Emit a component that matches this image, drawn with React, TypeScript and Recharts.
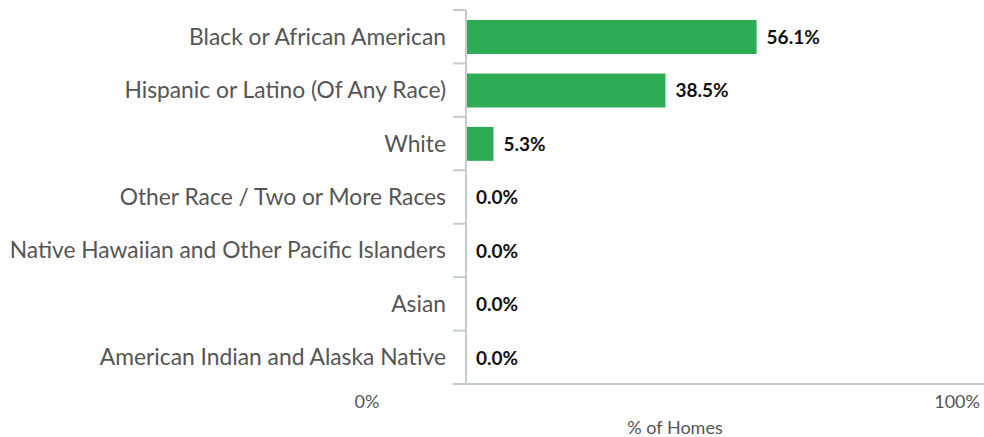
import { BarChart, Bar, XAxis, YAxis, LabelList } from 'recharts';

const categories = [
  'Black or African American',
  'Hispanic or Latino (Of Any Race)',
  'White',
  'Other Race / Two or More Races',
  'Native Hawaiian and Other Pacific Islanders',
  'Asian',
  'American Indian and Alaska Native',
];
const shares = [56.1, 38.5, 5.3, 0.0, 0.0, 0.0, 0.0];
const xTicks = [0, 100];

const data = categories.map((name, i) => ({ name, value: shares[i] }));

const AXIS = '#c3cdcf';
const FONT = 'Lato, "Noto Sans", sans-serif';
const TOP = 10;
const PLOT_H = 374;
const BAND = PLOT_H / categories.length;

function CategoryTick(props: any) {
  const { x, y, payload, index } = props;
  const axisX = x + 8;
  return (
    <g>
      <line x1={axisX - 13} x2={axisX} y1={y - BAND / 2} y2={y - BAND / 2} stroke={AXIS} strokeWidth={2} />
      {index === categories.length - 1 && (
        <line x1={axisX - 13} x2={axisX} y1={y + BAND / 2} y2={y + BAND / 2} stroke={AXIS} strokeWidth={2} />
      )}
      <text x={axisX - 20} y={y} dy={8} textAnchor="end" fill="#555" fontSize={22.8} fontFamily={FONT}>
        {payload.value}
      </text>
    </g>
  );
}

function PercentTick(props: any) {
  const { x, y, payload } = props;
  const isZero = payload.value === 0;
  return (
    <text
      x={isZero ? x - 99 : x - 4}
      y={y}
      dy={16}
      textAnchor={isZero ? 'middle' : 'end'}
      fill="#555"
      fontSize={18}
      fontFamily={FONT}
    >
      {payload.value}%
    </text>
  );
}

function ValueLabel(props: any) {
  const { x, y, width, height, value } = props;
  const w = Number(width) < 0.5 ? 0 : Number(width);
  return (
    <text
      x={Number(x) + w + 10}
      y={Number(y) + Number(height) / 2}
      dy={7}
      fill="#111"
      fontSize={19}
      fontWeight={700}
      fontFamily={FONT}
    >
      {Number(value).toFixed(1)}%
    </text>
  );
}

export default function App() {
  return (
    <div style={{ position: 'absolute', left: 0, top: 0, width: 984, height: 437, background: '#fff' }}>
      <BarChart
        width={984}
        height={437}
        data={data}
        layout="vertical"
        margin={{ top: TOP, right: 0, bottom: 0, left: 0 }}
        barCategoryGap={0}
      >
        <XAxis
          type="number"
          domain={[0, 100]}
          ticks={xTicks}
          tick={<PercentTick />}
          tickLine={false}
          axisLine={{ stroke: AXIS, strokeWidth: 2 }}
          height={437 - TOP - PLOT_H}
          interval={0}
        />
        <YAxis
          type="category"
          dataKey="name"
          width={466}
          tick={<CategoryTick />}
          tickLine={false}
          axisLine={{ stroke: AXIS, strokeWidth: 2 }}
          interval={0}
        />
        <Bar
          dataKey="value"
          fill="#2eab55"
          barSize={34}
          minPointSize={(v: any) => (Number(v) === 0 ? 0.01 : 0)}
          isAnimationActive={false}
        >
          <LabelList dataKey="value" content={<ValueLabel />} />
        </Bar>
      </BarChart>
      <div
        style={{
          position: 'absolute',
          left: 575,
          width: 200,
          top: 416,
          textAlign: 'center',
          fontSize: 18,
          color: '#555',
          fontFamily: FONT,
        }}
      >
        % of Homes
      </div>
    </div>
  );
}
